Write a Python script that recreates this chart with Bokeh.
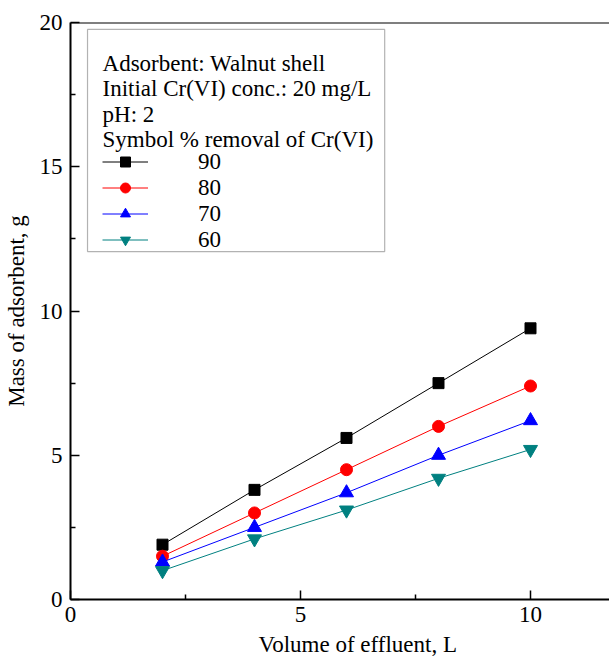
from bokeh.plotting import figure
from bokeh.models import (Range1d, FixedTicker, Legend, LegendItem, BoxAnnotation,
                          Label, Span, Title)
from bokeh.embed import file_html
from bokeh.resources import INLINE

volume = [2, 4, 6, 8, 10]
mass_90 = [1.9, 3.8, 5.6, 7.5, 9.4]
mass_80 = [1.5, 3.0, 4.5, 6.0, 7.4]
mass_70 = [1.3, 2.5, 3.7, 5.0, 6.2]
mass_60 = [1.0, 2.1, 3.1, 4.2, 5.2]
labels = ["90", "80", "70", "60"]
header = ["Adsorbent: Walnut shell", "Initial Cr(VI) conc.: 20 mg/L", "pH: 2",
          "Symbol % removal of Cr(VI)"]
x_ticks = [0, 5, 10]
y_ticks = [0, 5, 10, 15, 20]

FONT = "Liberation Serif"
FS = "23px"

p = figure(width=609, height=662, output_backend="svg", toolbar_location=None,
           x_range=Range1d(0, 11.717), y_range=Range1d(0, 20),
           min_border_left=70, min_border_right=0, min_border_top=22,
           min_border_bottom=0)
p.outline_line_color = None
p.xgrid.visible = False
p.ygrid.visible = False
p.background_fill_color = "white"
p.border_fill_color = "white"

p.xaxis.ticker = FixedTicker(ticks=x_ticks, minor_ticks=[2.5, 7.5, 12.5])
p.yaxis.ticker = FixedTicker(ticks=y_ticks, minor_ticks=[2.5, 7.5, 12.5, 17.5])
for ax in (p.xaxis[0], p.yaxis[0]):
    ax.axis_line_width = 2
    ax.major_tick_line_width = 1.5
    ax.minor_tick_line_width = 1.5
    ax.major_tick_in = 9
    ax.major_tick_out = 0
    ax.minor_tick_in = 5
    ax.minor_tick_out = 0
    ax.major_label_text_font = FONT
    ax.major_label_text_font_size = FS
    ax.major_label_text_color = "black"
    ax.axis_label_text_font = FONT
    ax.axis_label_text_font_size = FS
    ax.axis_label_text_font_style = "normal"
    ax.axis_label_text_color = "black"
    ax.axis_line_color = "black"
    ax.major_tick_line_color = "black"
    ax.minor_tick_line_color = "black"

p.yaxis.axis_label = "Mass of adsorbent, g"
p.xaxis.major_label_standoff = 7
p.yaxis.major_label_standoff = 8
p.yaxis.axis_label_standoff = 8

# x-axis title, placed where the original places it (under a wider, cropped frame)
p.add_layout(Title(text="Volume of effluent, L", align="left", offset=188,
                   text_font=FONT, text_font_size=FS, text_font_style="normal",
                   text_color="black", standoff=11), "below")

p.add_layout(Span(location=20, dimension="width", line_color="black", line_width=2))

series = [
    (mass_90, "black", "square", 11),
    (mass_80, "red", "circle", 12),
    (mass_70, "blue", "triangle", 14),
    (mass_60, "#008080", "inverted_triangle", 14),
]
items = []
for (ys, col, mk, sz), lab in zip(series, labels):
    r1 = p.line(volume, ys, line_color=col, line_width=1)
    r2 = p.scatter(volume, ys, marker=mk, size=sz, fill_color=col, line_color=col)
    items.append(LegendItem(label=lab, renderers=[r1, r2]))

p.add_layout(BoxAnnotation(left=0.37, right=6.83, bottom=12.06, top=19.76,
                           fill_color=None, line_color="black", line_width=1.2))

header_y = [18.58, 17.71, 16.81, 15.94]
for txt, yy in zip(header, header_y):
    p.add_layout(Label(x=0.696, y=yy, text=txt, text_font=FONT, text_font_size=FS,
                       text_baseline="middle", text_color="black"))

legend = Legend(items=items, location=(32, 346.5), border_line_color=None,
                background_fill_alpha=0, padding=0, margin=0, spacing=0,
                glyph_width=46, glyph_height=25, label_height=25,
                label_standoff=50, label_text_font=FONT, label_text_font_size=FS,
                label_text_color="black")
p.add_layout(legend)

open("out.html", "w").write(file_html(p, INLINE))
